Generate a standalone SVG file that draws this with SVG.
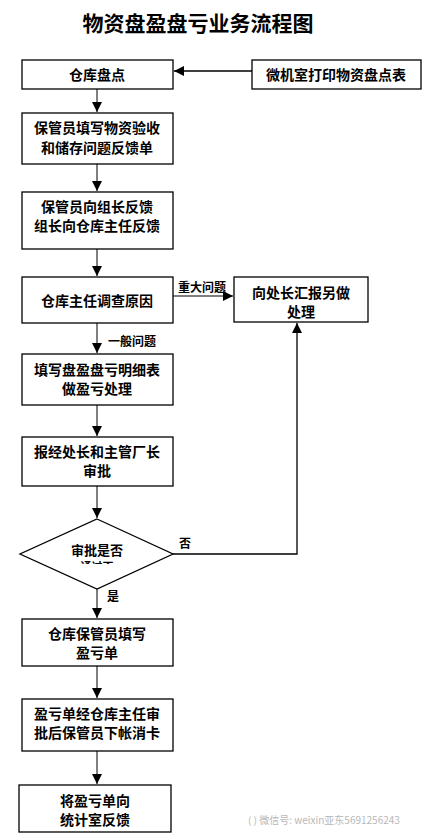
<svg xmlns="http://www.w3.org/2000/svg" width="432" height="839" viewBox="0 0 432 839">
<style>
.box{fill:#fff;stroke:#000;stroke-width:1.3}
.t{font-family:"Noto Sans CJK SC","Noto Sans CJK JP",sans-serif;font-size:14px;font-weight:bold;fill:#000;text-anchor:middle}
.lbl{font-family:"Noto Sans CJK SC","Noto Sans CJK JP",sans-serif;font-size:12px;font-weight:bold;fill:#000}
.title{font-family:"Noto Sans CJK SC","Noto Sans CJK JP",sans-serif;font-size:21px;font-weight:bold;fill:#000;text-anchor:middle}
.ln{fill:none;stroke:#7f7f7f;stroke-width:2}
.lk{fill:none;stroke:#000;stroke-width:1.3}
.wm{font-family:"Noto Sans CJK SC",sans-serif;font-size:10px;fill:#b8b8b8}
</style>
<defs>
<marker id="ah" viewBox="0 0 10 10" refX="10" refY="5" markerWidth="10" markerHeight="10" markerUnits="userSpaceOnUse" orient="auto">
<path d="M0,0 L10,5 L0,10 z" fill="#000"/>
</marker>
<clipPath id="dclip"><rect x="0" y="500" width="432" height="64"/></clipPath>
</defs>
<rect width="432" height="839" fill="#fff"/>
<text class="title" x="198" y="31">物资盘盈盘亏业务流程图</text>

<g id="connectors">
<line class="lk" x1="252" y1="71" x2="174" y2="71" marker-end="url(#ah)"/>
<line class="ln" x1="97" y1="89" x2="97" y2="112" marker-end="url(#ah)"/>
<line class="ln" x1="97" y1="164" x2="97" y2="191" marker-end="url(#ah)"/>
<line class="ln" x1="97" y1="249" x2="97" y2="276" marker-end="url(#ah)"/>
<line class="ln" x1="173" y1="296" x2="233" y2="296" marker-end="url(#ah)"/>
<text class="lbl" x="178" y="292">重大问题</text>
<line class="ln" x1="97" y1="323" x2="97" y2="353" marker-end="url(#ah)"/>
<text class="lbl" x="108" y="346">一般问题</text>
<line class="ln" x1="97" y1="405" x2="97" y2="436" marker-end="url(#ah)"/>
<line class="ln" x1="97" y1="486" x2="97" y2="518" marker-end="url(#ah)"/>
<polyline class="lk" points="173,554 297,554 297,323" marker-end="url(#ah)"/>
<text class="lbl" x="179" y="548">否</text>
<line class="ln" x1="97" y1="589" x2="97" y2="618" marker-end="url(#ah)"/>
<text class="lbl" x="107" y="601">是</text>
<line class="ln" x1="97" y1="666" x2="97" y2="698" marker-end="url(#ah)"/>
<line class="ln" x1="97" y1="751" x2="97" y2="784" marker-end="url(#ah)"/>
</g>

<g id="n1"><rect class="box" x="22" y="60" width="151" height="29"/><text class="t" x="97" y="80">仓库盘点</text></g>
<g id="n0"><rect class="box" x="252" y="60" width="169" height="29"/><text class="t" x="336" y="80">微机室打印物资盘点表</text></g>
<g id="n2"><rect class="box" x="22" y="113" width="151" height="51"/><text class="t" x="97" y="133">保管员填写物资验收</text><text class="t" x="97" y="153">和储存问题反馈单</text></g>
<g id="n3"><rect class="box" x="22" y="192" width="151" height="57"/><text class="t" x="97" y="212">保管员向组长反馈</text><text class="t" x="97" y="231">组长向仓库主任反馈</text></g>
<g id="n4"><rect class="box" x="22" y="277" width="151" height="46"/><text class="t" x="97" y="306">仓库主任调查原因</text></g>
<g id="n10"><rect class="box" x="234" y="277" width="134" height="45"/><text class="t" x="301" y="298">向处长汇报另做</text><text class="t" x="301" y="317">处理</text></g>
<g id="n5"><rect class="box" x="22" y="354" width="151" height="51"/><text class="t" x="97" y="375">填写盘盈盘亏明细表</text><text class="t" x="97" y="394">做盈亏处理</text></g>
<g id="n6"><rect class="box" x="22" y="437" width="151" height="49"/><text class="t" x="97" y="457">报经处长和主管厂长</text><text class="t" x="97" y="476">审批</text></g>
<g id="n7"><polygon class="box" points="97,519 173,554 97,589 20,554"/><text class="t" x="97" y="555" style="font-size:13px">审批是否</text><text class="t" x="97" y="571" style="font-size:11px" clip-path="url(#dclip)">通过否</text></g>
<g id="n8"><rect class="box" x="22" y="619" width="151" height="47"/><text class="t" x="97" y="639">仓库保管员填写</text><text class="t" x="97" y="658">盈亏单</text></g>
<g id="n9"><rect class="box" x="22" y="699" width="151" height="52"/><text class="t" x="97" y="719">盈亏单经仓库主任审</text><text class="t" x="97" y="738">批后保管员下帐消卡</text></g>
<g id="n11"><rect class="box" x="19" y="785" width="152" height="47"/><text class="t" x="95" y="806">将盈亏单向</text><text class="t" x="95" y="825">统计室反馈</text></g>
<text class="wm" x="248" y="824">(  ) 微信号: weixin亚东5691256243</text>
</svg>
